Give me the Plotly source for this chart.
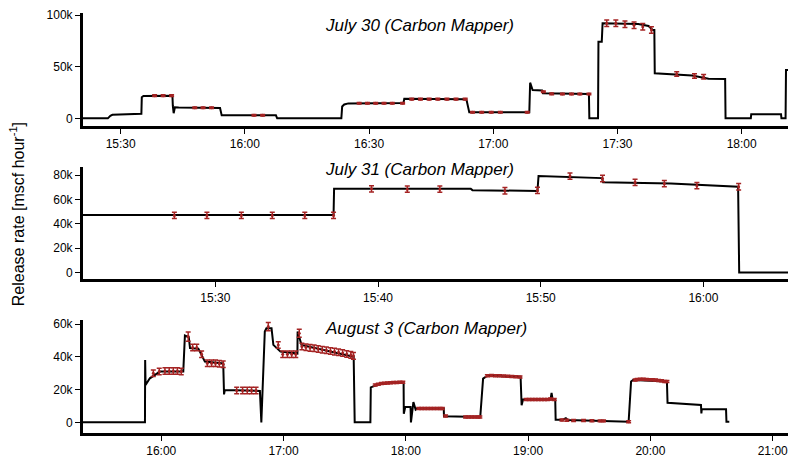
import plotly.graph_objects as go

RED = "#a52424"
FONT = "Liberation Sans, Arial, sans-serif"

# ---------------- July 30 ----------------
jul30_line_t = ["15:20:00","15:26:54","15:27:30","15:28:00","15:35:00","15:35:06","15:35:30","15:42:30","15:42:36","15:42:48",
                "15:43:06","15:44:00","15:54:00","15:54:24","16:07:30","16:07:48","16:23:18","16:23:30","16:24:00","16:25:00",
                "16:38:18","16:38:30","16:53:30","16:54:12","17:08:42","17:08:54","17:09:30","17:11:48","17:12:00","17:23:06",
                "17:23:12","17:25:18","17:25:24","17:26:12","17:26:24","17:35:00","17:37:30","17:38:30","17:38:54","17:39:00",
                "17:48:00","17:52:00","17:56:00","17:56:06","18:02:12","18:02:18","18:09:30","18:09:36","18:10:36","18:10:42",
                "18:12:00"]
jul30_line_v = [0,0,2.5,3.5,4.5,20.5,21.7,22.0,12,5,
                10.8,10.5,10.0,2.9,2.9,0,0,11.5,13.5,14.5,
                14.8,19.0,18.5,5.8,6.0,34.6,27.5,27.0,24.3,23.6,
                0,0,74.4,74.4,92.2,91.5,89.6,85.7,85.7,43.7,
                41.5,38.5,38.2,0,0,3.9,3.9,0,0,47,
                47]
jul30_pt_t = ["15:38:12","15:40:15","15:42:18","15:47:54","15:49:54","15:51:57","16:02:12","16:04:18",
              "16:27:36","16:29:36","16:31:36","16:33:36","16:35:36","16:38:06",
              "16:40:18","16:42:24","16:44:30","16:46:36","16:48:48","16:51:00","16:53:12",
              "16:55:00","16:57:12","16:59:30","17:01:42","17:08:12",
              "17:12:06","17:14:06","17:16:42","17:18:54","17:20:54","17:23:06",
              "17:27:24","17:29:36","17:31:48","17:34:00","17:36:06","17:38:12",
              "17:44:18","17:48:36","17:50:48"]
jul30_pt_v = [22,22,22,10.3,10.3,10.3,3,3,
              14.6,14.6,14.6,14.6,14.6,14.6,
              18.6,18.6,18.6,18.6,18.6,18.6,18.6,
              5.9,5.9,5.9,5.9,5.9,
              25.8,23.8,23.6,23.6,23.6,23.6,
              92.2,92.2,91.3,90.3,88.9,85.7,
              43.0,41.0,40.4]
jul30_pt_err = [0.8]*32 + [3.2]*6 + [2.2]*3

# ---------------- July 31 ----------------
jul31_line_t = ["15:20:00","15:37:16","15:37:18","15:45:42","15:45:48","15:49:48","15:49:52","15:53:46","15:53:50",
                "15:58:00","16:02:08","16:02:12","16:06:00"]
jul31_line_v = [47.2,47.2,68.8,68.8,67.7,67.0,79.3,77.6,74.1,73.2,70.5,0,0]
jul31_pt_t = ["15:27:29","15:29:29","15:31:36","15:33:30","15:35:30","15:37:16","15:39:36","15:41:48","15:43:48",
              "15:47:48","15:49:48","15:51:48","15:53:48","15:55:48","15:57:36","15:59:36","16:02:10"]
jul31_pt_v = [46.9,46.9,46.9,46.9,46.9,46.9,68.8,68.5,68.5,67.2,67.5,79.3,77.3,74.1,73.0,71.4,70.5]
jul31_pt_err = [2.6]*17

# ---------------- August 3 ----------------
aug3_line_t = ["15:20:00","15:52:00","15:52:06","15:52:18","15:54:24","15:59:24","16:10:48","16:11:36","16:13:30","16:14:06",
               "16:18:12","16:21:24","16:30:24","16:30:48","16:31:12","16:48:24","16:49:06","16:50:48","16:51:36","16:54:06",
               "16:55:00","16:58:30","17:06:48","17:06:54","17:08:48","17:20:00","17:34:24","17:34:54","17:42:36","17:42:48",
               "17:48:00","17:58:54","17:59:00","17:59:42","18:02:18","18:02:30","18:03:42","18:04:48","18:05:30","18:18:36",
               "18:18:42","18:36:30","18:37:54","18:40:00","18:56:18","18:56:48","18:57:30","19:11:00","19:11:30","19:12:00",
               "19:13:18","19:13:30","19:17:00","19:18:30","19:19:30","19:49:18","19:50:30","19:51:30","20:08:06","20:08:24",
               "20:24:48","20:25:00","20:25:12","20:37:06","20:37:18","20:38:42"]
aug3_line_v = [0,0,38.1,22.8,26.9,31.0,31.0,53.0,52.0,45.3,
               45.0,37.1,36.0,17.1,19.8,19.2,0,55.5,57.5,57.5,
               47.3,43.2,42.0,55.5,47.3,44.0,40.0,0,0,21.4,
               23.9,24.5,5.3,9.4,9.4,0,12.4,7.8,8.4,8.4,
               3.7,3.3,26.7,28.5,27.8,10.4,13.9,14.0,18.0,14.0,
               14.0,1.6,1.6,2.5,1.4,0.4,24.9,25.9,24.9,12.0,
               10.6,5.5,8.0,8.0,0.4,0.4]
aug3_pt_t = ["15:56:06","15:59:00","16:01:48","16:03:54","16:05:54","16:07:54","16:09:48","16:13:12","16:15:24","16:17:24",
             "16:19:48","16:22:36","16:24:42","16:26:36","16:28:30","16:30:24","16:37:00","16:39:54","16:42:12","16:44:18",
             "16:46:30","16:52:30","16:57:24","16:59:36","17:01:54","17:04:00","17:06:00","17:07:42","17:09:00","17:11:00",
             "17:13:00","17:15:00","17:17:00","17:19:00","17:21:00","17:23:00","17:25:00","17:27:00","17:29:00","17:31:00",
             "17:33:00","17:34:18",
             "17:45:00","17:46:30","17:48:00","17:49:30","17:51:00","17:52:30","17:54:00","17:55:30","17:57:00","17:58:30",
             "18:06:18","18:07:48","18:09:18","18:10:48","18:12:18","18:13:48","18:15:18","18:16:48","18:17:54",
             "18:19:30",
             "18:29:18","18:30:48","18:32:18","18:33:48","18:35:18","18:36:18",
             "18:40:00","18:42:00","18:44:00","18:46:00","18:48:00","18:50:00","18:52:00","18:54:00","18:56:00",
             "18:59:00","19:00:30","19:02:00","19:03:30","19:05:00","19:06:30","19:08:00","19:09:30","19:11:00","19:12:48",
             "19:16:36","19:19:00","19:22:18","19:27:12","19:31:18","19:35:18","19:37:00",
             "19:49:18",
             "19:52:30","19:53:30","19:55:00","19:56:30","19:58:00","19:59:30","20:01:00","20:02:30","20:04:00","20:05:30",
             "20:07:00","20:08:06"]
aug3_pt_v = [30.0,31.0,31.4,31.4,31.4,31.4,31.0,52.4,45.7,45.7,
             41.6,36.1,36.1,36.1,35.8,35.5,19.4,19.4,19.4,19.4,
             19.4,58.5,47.3,41.6,41.6,41.6,41.6,54.4,46.3,45.9,
             45.5,45.2,44.8,44.4,44.0,43.6,43.2,42.8,42.3,41.8,
             41.2,40.6,
             22.8,23.3,23.7,23.9,24.1,24.2,24.3,24.4,24.5,24.5,
             8.4,8.4,8.4,8.4,8.4,8.4,8.4,8.4,8.4,
             3.9,
             3.3,3.3,3.3,3.3,3.3,3.3,
             28.4,28.6,28.4,28.4,28.3,28.2,28.0,27.9,27.7,
             13.9,13.9,13.9,13.9,13.9,13.9,14.0,14.0,14.2,14.0,
             1.4,1.3,1.2,1.1,1.0,0.9,0.9,
             0.4,
             25.9,26.2,26.3,26.3,26.2,26.1,26.0,25.9,25.6,25.4,
             25.0,24.9]
aug3_pt_err = [2.0]*7 + [2.8] + [2.0]*13 + [2.5] + [2.0]*5 + [2.5] + [2.0]*14 + [0.6]*65

panels = [
    ("2022-07-30", jul30_line_t, jul30_line_v, jul30_pt_t, jul30_pt_v, jul30_pt_err),
    ("2022-07-31", jul31_line_t, jul31_line_v, jul31_pt_t, jul31_pt_v, jul31_pt_err),
    ("2022-08-03", aug3_line_t, aug3_line_v, aug3_pt_t, aug3_pt_v, aug3_pt_err),
]
titles = ["July 30 (Carbon Mapper)", "July 31 (Carbon Mapper)", "August 3 (Carbon Mapper)"]
x_ranges = [("15:20:54", "18:11:11"), ("15:21:52", "16:05:12"), ("15:21:36", "21:07:30")]
x_ticks = [["15:30", "16:00", "16:30", "17:00", "17:30", "18:00"],
           ["15:30", "15:40", "15:50", "16:00"],
           ["16:00", "17:00", "18:00", "19:00", "20:00", "21:00"]]
y_ranges = [(-7.5, 102.2), (-5.8, 86.9), (-6.5, 62.8)]
y_ticks = [[0, 50, 100], [0, 20, 40, 60, 80], [0, 20, 40, 60]]
y_domains = [(0.7308, 1.0), (0.3655, 0.6338), (0.0, 0.2702)]
title_y = [0.9714, 0.628, 0.2495]

fig = go.Figure()
for i, (day, lt, lv, pt, pv, pe) in enumerate(panels):
    xa = "x" if i == 0 else f"x{i+1}"
    ya = "y" if i == 0 else f"y{i+1}"
    fig.add_trace(go.Scatter(x=[f"{day} {t}" for t in lt], y=lv, mode="lines",
                             line=dict(color="black", width=2), xaxis=xa, yaxis=ya,
                             showlegend=False, hoverinfo="skip"))
    fig.add_trace(go.Scatter(x=[f"{day} {t}" for t in pt], y=pv, mode="markers",
                             marker=dict(color=RED, size=3),
                             error_y=dict(type="data", array=pe, visible=True, color=RED,
                                          thickness=1.5, width=2.5),
                             xaxis=xa, yaxis=ya, showlegend=False))
    axis_common = dict(showline=True, linewidth=3, linecolor="black", ticks="outside", ticklen=5,
                       tickwidth=1, tickcolor="black", showgrid=False, zeroline=False,
                       ticklabeloverflow="allow",
                       tickfont=dict(family=FONT, size=12, color="black"))
    xkey = "xaxis" if i == 0 else f"xaxis{i+1}"
    ykey = "yaxis" if i == 0 else f"yaxis{i+1}"
    fig.update_layout(**{
        xkey: dict(axis_common, type="date", domain=[0, 1], anchor=ya,
                   range=[f"{day} {x_ranges[i][0]}", f"{day} {x_ranges[i][1]}"],
                   tickvals=[f"{day} {t}:00" for t in x_ticks[i]], ticktext=x_ticks[i]),
        ykey: dict(axis_common, domain=list(y_domains[i]), anchor=xa, range=list(y_ranges[i]),
                   tickvals=y_ticks[i], ticktext=[("0" if v == 0 else f"{v}k") for v in y_ticks[i]]),
    })
    fig.add_annotation(text=titles[i], xref="paper", yref="paper", x=0.3405, y=title_y[i],
                       xanchor="left", yanchor="middle", showarrow=False,
                       font=dict(family=FONT, size=17, color="black", style="italic"))

fig.add_annotation(text="Release rate [mscf hour<sup>-1</sup>]", xref="paper", yref="paper",
                   x=-0.0936, y=0.521, xanchor="center", yanchor="middle", textangle=-90,
                   showarrow=False, font=dict(family=FONT, size=16, color="black"))

fig.update_layout(width=788, height=460, margin=dict(l=83, r=0, t=13, b=27),
                  plot_bgcolor="white", paper_bgcolor="white")
fig.write_html("out.html", config={"displayModeBar": False},
               post_script="document.body.style.margin='0';document.body.style.overflow='hidden';")
